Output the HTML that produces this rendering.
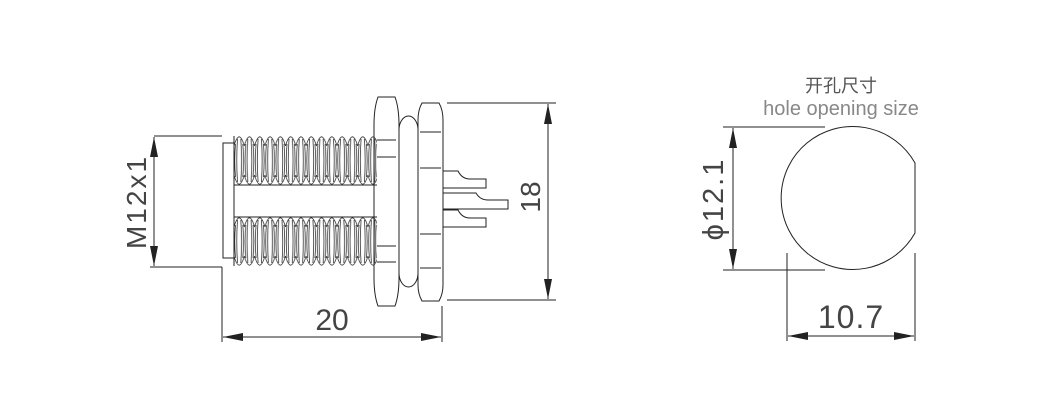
<!DOCTYPE html>
<html><head><meta charset="utf-8"><style>
html,body{margin:0;padding:0;background:#fff;}
svg{display:block;}
text{font-family:"Liberation Sans","Noto Sans CJK SC",sans-serif;fill:#444;}
</style></head><body>
<svg width="1042" height="403" viewBox="0 0 1042 403" xmlns="http://www.w3.org/2000/svg">
<defs>
<pattern id="th" x="234" y="136" width="10.3" height="49" patternUnits="userSpaceOnUse">
<path d="M0,10 Q2.5,1 5.15,0.8 Q7.8,1 10.3,10 M0,39 Q2.5,48 5.15,48.2 Q7.8,48 10.3,39 M1.5,8 Q0,24.5 1.5,41 M8.8,8 Q10.3,24.5 8.8,41 M3.5,3 Q2,24.5 3.5,46 M6.8,3 Q8.3,24.5 6.8,46" fill="none" stroke="#333" stroke-width="0.8"/>
</pattern>
<pattern id="th2" x="234" y="217" width="10.3" height="49" patternUnits="userSpaceOnUse">
<path d="M0,10 Q2.5,1 5.15,0.8 Q7.8,1 10.3,10 M0,39 Q2.5,48 5.15,48.2 Q7.8,48 10.3,39 M1.5,8 Q0,24.5 1.5,41 M8.8,8 Q10.3,24.5 8.8,41 M3.5,3 Q2,24.5 3.5,46 M6.8,3 Q8.3,24.5 6.8,46" fill="none" stroke="#333" stroke-width="0.8"/>
</pattern>
<marker id="ar" viewBox="0 0 20 8" refX="20" refY="4" markerWidth="20" markerHeight="8" markerUnits="userSpaceOnUse" orient="auto-start-reverse"><path d="M0,0 L20,4 L0,8 Z" fill="#222"/></marker>
</defs>
<g stroke="#222" stroke-width="1" fill="none">
<line x1="154" y1="136" x2="222" y2="136"/>
<line x1="150" y1="267" x2="222" y2="267"/>
<line x1="222" y1="267" x2="222" y2="342"/>
<line x1="154" y1="137" x2="154" y2="266" marker-start="url(#ar)" marker-end="url(#ar)"/>
<rect x="223" y="143" width="11" height="115"/>
<rect x="234" y="136" width="143" height="49" fill="url(#th)" stroke="none"/>
<rect x="234" y="217" width="143" height="49" fill="url(#th2)" stroke="none"/>
<line x1="234" y1="185" x2="377" y2="185"/>
<line x1="234" y1="217" x2="377" y2="217"/>
<line x1="234" y1="136" x2="234" y2="266"/>
<path d="M378,97 L395,97 Q399,108 399,125 L399,278 Q399,295 395,306 L378,306 Q374,295 374,278 L374,125 Q374,108 378,97 Z"/>
<line x1="377" y1="140" x2="396" y2="140"/><line x1="377" y1="157" x2="396" y2="157"/>
<line x1="377" y1="246" x2="396" y2="246"/><line x1="377" y1="262" x2="396" y2="262"/>
<rect x="399" y="116" width="19" height="171" rx="9.5" ry="14"/>
<path d="M422,103 L439,103 Q443,110 443,120 L443,285 Q443,294 439,301 L422,301 Q418,294 418,285 L418,120 Q418,110 422,103 Z"/>
<line x1="420" y1="132" x2="441" y2="132"/><line x1="420" y1="168" x2="441" y2="168"/>
<line x1="420" y1="234" x2="441" y2="234"/><line x1="420" y1="268" x2="441" y2="268"/>
<path d="M443,171 L458,171 Q462,179 470,179 L486,179 L486,188 L443,188"/>
<path d="M443,193 L476,193 Q480,200 488,200 L508,200 L508,209 L443,209"/>
<path d="M443,210 L458,210 Q462,218 470,218 L486,218 L486,227 L443,227"/>
<line x1="447" y1="103" x2="556" y2="103"/>
<line x1="447" y1="300" x2="556" y2="300"/>
<line x1="548" y1="104" x2="548" y2="299" marker-start="url(#ar)" marker-end="url(#ar)"/>
<line x1="442" y1="306" x2="442" y2="342"/>
<line x1="223" y1="337" x2="441" y2="337" marker-start="url(#ar)" marker-end="url(#ar)"/>
<path d="M915,163 A71.5,71.5 0 1 0 915,233 Z"/>
<line x1="723" y1="127" x2="825" y2="127"/>
<line x1="723" y1="270" x2="825" y2="270"/>
<line x1="733" y1="128" x2="733" y2="269" marker-start="url(#ar)" marker-end="url(#ar)"/>
<line x1="787" y1="253" x2="787" y2="341"/>
<line x1="915" y1="253" x2="915" y2="341"/>
<line x1="788" y1="336" x2="914" y2="336" marker-start="url(#ar)" marker-end="url(#ar)"/>
</g>
<text x="0" y="0" font-size="28" text-anchor="middle" transform="translate(146,202) rotate(-90)" letter-spacing="2">M12x1</text>
<text x="0" y="0" font-size="28" text-anchor="middle" transform="translate(540,197) rotate(-90)">18</text>
<text x="332" y="330" font-size="30" text-anchor="middle">20</text>
<text x="0" y="0" font-size="29" text-anchor="middle" transform="translate(723,199) rotate(-90)" letter-spacing="2">ϕ12.1</text>
<text x="851" y="328" font-size="32" text-anchor="middle" letter-spacing="1">10.7</text>
<text x="841" y="92" font-size="18" text-anchor="middle" style="fill:#555">开孔尺寸</text>
<text x="841" y="115" font-size="20" text-anchor="middle" style="fill:#888">hole opening size</text>
</svg>
</body></html>
